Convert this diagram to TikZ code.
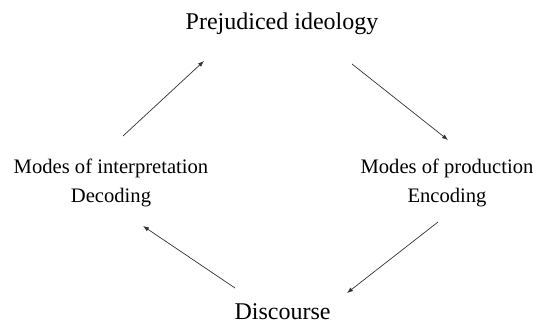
\documentclass[tikz,border=0pt]{standalone}
\usepackage{fontspec}
\setmainfont{Liberation Serif}
\usetikzlibrary{arrows.meta}
\begin{document}
\begin{tikzpicture}[x=1pt,y=-1pt,
  big/.style={font=\fontsize{24}{28}\selectfont, inner sep=0pt, anchor=base},
  side/.style={font=\fontsize{20.6}{29}\selectfont, align=center, inner sep=0pt, anchor=base},
  conn/.style={draw=black!80, line width=0.7pt, -{Latex[length=6pt,width=4.5pt]}}]
\useasboundingbox (0,0) rectangle (540,323);
\node[big] (top) at (282,30) {Prejudiced ideology};
\node[side] (left) at (111,202) {Modes of interpretation\\Decoding};
\node[side] (right) at (447,202) {Modes of production\\Encoding};
\node[big, text depth=0pt] (bot) at (282.5,319) {Discourse};
\coordinate (a1) at (123,136); \coordinate (a2) at (204,61);
\coordinate (b1) at (352,64); \coordinate (b2) at (448,140);
\coordinate (c1) at (438,222); \coordinate (c2) at (347,293);
\coordinate (d1) at (235,288); \coordinate (d2) at (143,226);
\draw[conn] (a1) -- (a2);
\draw[conn] (b1) -- (b2);
\draw[conn] (c1) -- (c2);
\draw[conn] (d1) -- (d2);
\end{tikzpicture}
\end{document}
